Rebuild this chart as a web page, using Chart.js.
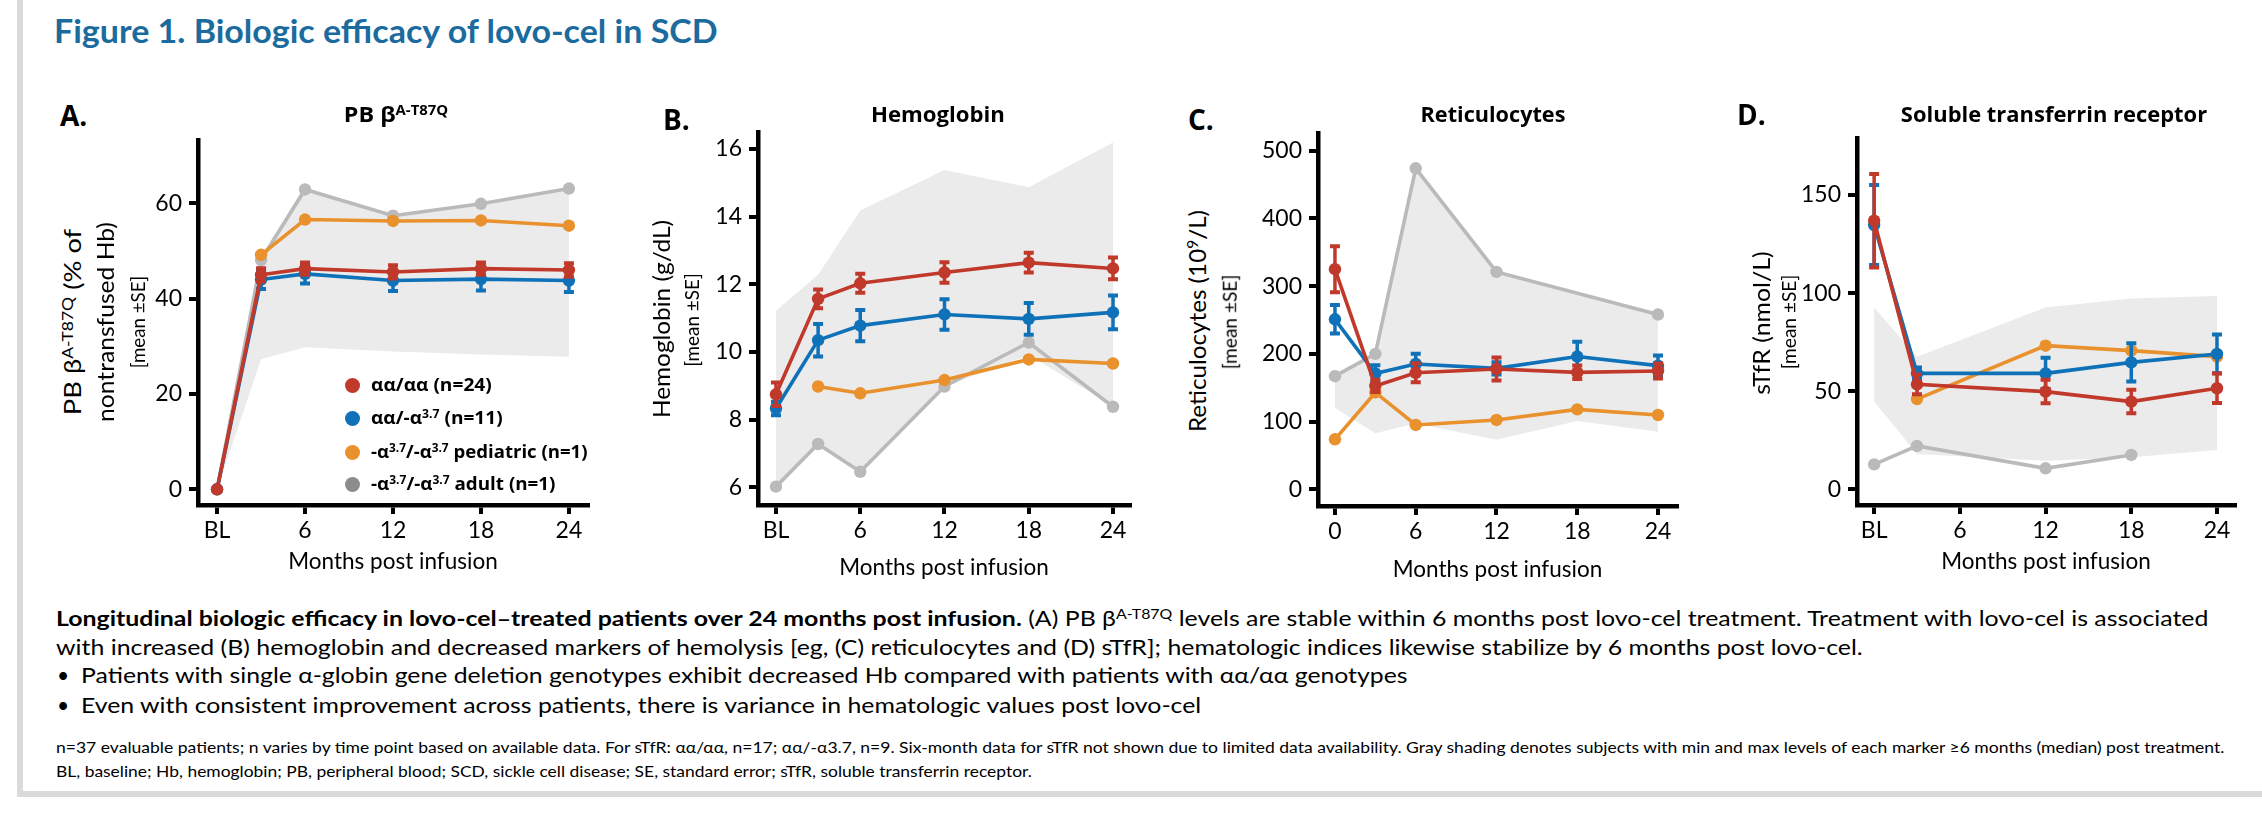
<!DOCTYPE html>
<html><head><meta charset="utf-8">
<script src="https://cdn.jsdelivr.net/npm/chart.js@4.4.1/dist/chart.umd.min.js"></script>
<style>
html,body{margin:0;padding:0;background:#fff;}
#page{position:relative;width:2262px;height:814px;overflow:hidden;background:#fff;font-family:Lato,sans-serif;color:#000;}
.abs{position:absolute;white-space:nowrap;line-height:1;}
canvas{position:absolute;}
.ob{font-family:'Open Sans',sans-serif;font-weight:700;}
.ctr{transform:translateX(-50%);transform-origin:50% 50%;}
.yt{position:absolute;white-space:nowrap;line-height:1;font-family:Lato,sans-serif;transform:translate(-50%,-50%) rotate(-90deg);transform-origin:50% 50%;}
sup{font-size:0.64em;vertical-align:baseline;position:relative;top:-0.5em;}
.dot{position:absolute;width:14px;height:14px;border-radius:50%;}
</style></head>
<body><div id="page">
<div style="position:absolute;left:17px;top:0;width:6px;height:797px;background:#dadada"></div>
<div style="position:absolute;left:17px;top:791px;width:2245px;height:6px;background:#dadada"></div>

<canvas id="cA"></canvas><canvas id="cB"></canvas><canvas id="cC"></canvas><canvas id="cD"></canvas>

<div class="abs" data-w="664" style="left:54px;top:14.5px;font-size:32px;font-weight:700;color:#1b6b9f">Figure 1. Biologic efficacy of lovo-cel in SCD</div>

<div class="abs ob" style="left:60px;top:101px;font-size:28px">A.</div>
<div class="abs ob" style="left:663px;top:105px;font-size:28px">B.</div>
<div class="abs ob" style="left:1188px;top:105px;font-size:28px">C.</div>
<div class="abs ob" style="left:1737px;top:100px;font-size:28px">D.</div>

<div class="abs ob ctr" data-w="104" style="left:396px;top:103px;font-size:21.5px">PB β<sup>A-T87Q</sup></div>
<div class="abs ob ctr" data-w="134" style="left:938px;top:103px;font-size:21.5px">Hemoglobin</div>
<div class="abs ob ctr" data-w="145" style="left:1493px;top:103px;font-size:21.5px">Reticulocytes</div>
<div class="abs ob ctr" data-w="306" style="left:2054px;top:103px;font-size:21.5px">Soluble transferrin receptor</div>

<div class="yt" data-w="187" style="left:71.5px;top:322px;font-size:24px">PB β<sup>A-T87Q</sup> (% of</div>
<div class="yt" data-w="200" style="left:105px;top:322px;font-size:24px">nontransfused Hb)</div>
<div class="yt" data-w="93" style="left:138px;top:322px;font-size:18.5px">[mean ±SE]</div>
<div class="yt" data-w="198" style="left:661px;top:319px;font-size:24px">Hemoglobin (g/dL)</div>
<div class="yt" data-w="94" style="left:692px;top:320px;font-size:18.5px">[mean ±SE]</div>
<div class="yt" data-w="222" style="left:1197px;top:321px;font-size:24px">Reticulocytes (10<sup>9</sup>/L)</div>
<div class="yt" data-w="95" style="left:1230px;top:322px;font-size:18.5px">[mean ±SE]</div>
<div class="yt" data-w="143" style="left:1761px;top:323px;font-size:24px">sTfR (nmol/L)</div>
<div class="yt" data-w="95" style="left:1789px;top:322px;font-size:18.5px">[mean ±SE]</div>

<div id="legend"></div>

<div class="abs" data-w="2152" style="left:56px;top:607px;font-size:21px"><b>Longitudinal biologic efficacy in lovo-cel–treated patients over 24 months post infusion.</b> (A) PB β<sup>A-T87Q</sup> levels are stable within 6 months post lovo-cel treatment. Treatment with lovo-cel is associated</div>
<div class="abs" data-w="1807" style="left:56px;top:636.4px;font-size:21px">with increased (B) hemoglobin and decreased markers of hemolysis [eg, (C) reticulocytes and (D) sTfR]; hematologic indices likewise stabilize by 6 months post lovo-cel.</div>
<div class="abs" style="left:57px;top:664.4px;font-size:21px">•</div>
<div class="abs" data-w="1326" style="left:81px;top:664.4px;font-size:21px">Patients with single α-globin gene deletion genotypes exhibit decreased Hb compared with patients with αα/αα genotypes</div>
<div class="abs" style="left:57px;top:694.1px;font-size:21px">•</div>
<div class="abs" data-w="1120" style="left:81px;top:694.1px;font-size:21px">Even with consistent improvement across patients, there is variance in hematologic values post lovo-cel</div>
<div class="abs" data-w="2168" style="left:56px;top:738.8px;font-size:16px">n=37 evaluable patients; n varies by time point based on available data. For sTfR: αα/αα, n=17; αα/-α3.7, n=9. Six-month data for sTfR not shown due to limited data availability. Gray shading denotes subjects with min and max levels of each marker ≥6 months (median) post treatment.</div>
<div class="abs" data-w="976" style="left:56px;top:762.8px;font-size:16px">BL, baseline; Hb, hemoglobin; PB, peripheral blood; SCD, sickle cell disease; SE, standard error; sTfR, soluble transferrin receptor.</div>
</div>

<script>
// ---------- data ----------
const xTickValues = [0, 6, 12, 18, 24];
const xTickLabelsBL = ['BL', '6', '12', '18', '24'];
const xTickLabelsZero = ['0', '6', '12', '18', '24'];
const monthsAll = [0, 3, 6, 12, 18, 24];
const monthsSTfR = [0, 3, 12, 18, 24];

const legendLabels = ['αα/αα (n=24)', 'αα/-α<sup>3.7</sup> (n=11)', '-α<sup>3.7</sup>/-α<sup>3.7</sup> pediatric (n=1)', '-α<sup>3.7</sup>/-α<sup>3.7</sup> adult (n=1)'];

// A: PB beta A-T87Q (%)
const pbYTicks = [0, 20, 40, 60];
const pbRed = [0, 45.0, 46.3, 45.6, 46.3, 46.0];
const pbRedSE = [0, 1.4, 1.3, 1.4, 1.3, 1.4];
const pbBlue = [0, 44.0, 45.2, 43.8, 44.1, 43.8];
const pbBlueSE = [0, 2.0, 2.0, 2.2, 2.4, 2.4];
const pbOrange = [null, 49.2, 56.6, 56.3, 56.4, 55.3];
const pbGray = [0, 48.1, 62.9, 57.4, 59.9, 63.1];
const pbShadeLo = [0, 27.3, 29.8, 28.9, 28.3, 27.8];
const pbShadeHi = [0, 48.1, 62.9, 57.4, 59.9, 63.1];

// B: Hemoglobin (g/dL)
const hbYTicks = [6, 8, 10, 12, 14, 16];
const hbRed = [8.75, 11.57, 12.03, 12.35, 12.64, 12.47];
const hbRedSE = [0.35, 0.28, 0.28, 0.3, 0.29, 0.32];
const hbBlue = [8.33, 10.35, 10.78, 11.11, 10.98, 11.17];
const hbBlueSE = [0.2, 0.48, 0.46, 0.45, 0.47, 0.5];
const hbOrange = [null, 8.98, 8.78, 9.17, 9.78, 9.66];
const hbGray = [6.02, 7.28, 6.46, 8.98, 10.28, 8.38];
const hbShadeLo = [6.05, 7.28, 6.46, 8.98, 9.9, 8.4];
const hbShadeHi = [11.22, 12.28, 14.18, 15.38, 14.87, 16.19];

// C: Reticulocytes (10^9/L)
const retYTicks = [0, 100, 200, 300, 400, 500];
const retRed = [325, 152.6, 172, 177.7, 172.7, 174.7];
const retRedSE = [34, 9, 14, 17, 10, 11];
const retBlue = [251, 171, 185, 178.6, 196, 182.6];
const retBlueSE = [21, 12, 15, 9, 22, 15];
const retOrange = [73.8, 143, 95, 102.4, 118, 109.7];
const retGray = [167, 200, 474, 321, null, 258];
const retShadeLo = [120, 82.7, 97, 73, 101, 85];
const retShadeHi = [167, 200, 474, 321, 289.5, 258];

// D: sTfR (nmol/L)
const stYTicks = [0, 50, 100, 150];
const stRed = [136.9, 53.5, 49.8, 44.7, 51.5];
const stRedSE = [23.8, 5, 6, 6, 7.5];
const stBlue = [134.7, 59.1, 59.1, 64.7, 69.0];
const stBlueSE = [20.4, 3, 8, 9.8, 9.9];
const stOrange = [null, 46.0, 73.2, 70.7, 67.6];
const stGray = [12.7, 22.1, 10.7, 17.5, null];
const stShadeLo = [44.7, 18, 14.6, 16.3, 20];
const stShadeHi = [92.6, 67.6, 92.7, 97.3, 98.5];

// ---------- styles ----------
const COL = {red: '#c0392b', blue: '#0f71b8', orange: '#e8912d', gray: '#bababa', shade: '#ebebeb', legendGray: '#8c8c8c'};

const errorBarPlugin = {
  id: 'errorBars',
  beforeDatasetDraw(chart, args) {
    const ds = chart.data.datasets[args.index];
    if (!ds.errors) return;
    const ctx = chart.ctx, x = chart.scales.x, y = chart.scales.y;
    ctx.save();
    ctx.strokeStyle = ds.borderColor;
    ctx.lineCap = 'butt';
    ds.data.forEach((p, i) => {
      const e = ds.errors[i];
      if (!e || p.y == null) return;
      const px = x.getPixelForValue(p.x);
      const pt = y.getPixelForValue(p.y + e);
      const pb = y.getPixelForValue(p.y - e);
      ctx.lineWidth = 3.5;
      ctx.beginPath(); ctx.moveTo(px, pt); ctx.lineTo(px, pb); ctx.stroke();
      ctx.lineWidth = 4;
      ctx.beginPath();
      ctx.moveTo(px - 5, pt); ctx.lineTo(px + 5, pt);
      ctx.moveTo(px - 5, pb); ctx.lineTo(px + 5, pb);
      ctx.stroke();
    });
    ctx.restore();
  }
};

function toXY(xs, ys) { return xs.map((x, i) => ({x: x, y: ys[i]})); }

function lineSet(ys, xs, color, order, se) {
  return {data: toXY(xs, ys), borderColor: color, backgroundColor: color,
    pointBackgroundColor: color, pointBorderColor: color, pointBorderWidth: 0,
    borderWidth: 3.6, pointRadius: 6.2, pointHoverRadius: 6.2, tension: 0, fill: false,
    spanGaps: true, order: order, errors: se, clip: false};
}

function makePanel(id, plot, xs, d, yMin, yMax, yTicks, xMin, xMax, xLabels, titlePadBottom) {
  const yW = 100, padTop = 30, padRight = 22, xH = 80;
  const left = plot.l - yW, top = plot.t - padTop;
  const width = plot.r + padRight - left, height = plot.b + xH - top;
  const cv = document.getElementById(id);
  cv.width = width; cv.height = height;
  cv.style.left = left + 'px'; cv.style.top = top + 'px';
  cv.style.width = width + 'px'; cv.style.height = height + 'px';
  const datasets = [
    lineSet(d.red, xs, COL.red, 1, d.redSE),
    lineSet(d.blue, xs, COL.blue, 2, d.blueSE),
    lineSet(d.orange, xs, COL.orange, 3, null),
    lineSet(d.gray, xs, COL.gray, 4, null),
    {data: toXY(xs, d.lo), borderColor: 'rgba(0,0,0,0)', borderWidth: 1, pointRadius: 0, fill: false, order: 10, tension: 0},
    {data: toXY(xs, d.hi), borderColor: 'rgba(0,0,0,0)', borderWidth: 1, pointRadius: 0, fill: '-1', backgroundColor: COL.shade, order: 10, tension: 0}
  ];
  const gridOpt = {display: true, drawOnChartArea: false, drawTicks: true, tickLength: 9, tickWidth: 4, tickColor: '#000', color: '#000', lineWidth: 4};
  const borderOpt = {display: true, color: '#000', width: 4.5};
  const tickFont = {family: 'Lato', size: 23};
  return new Chart(cv, {
    type: 'line',
    data: {datasets: datasets},
    options: {
      responsive: false, animation: false, devicePixelRatio: 1, events: [],
      layout: {padding: {top: padTop, right: padRight, left: 0, bottom: 0}},
      plugins: {legend: {display: false}, tooltip: {enabled: false}},
      scales: {
        x: {type: 'linear', min: xMin, max: xMax,
          afterBuildTicks: s => { s.ticks = xTickValues.map(v => ({value: v})); },
          afterFit: s => { s.height = xH; },
          ticks: {callback: v => xLabels[xTickValues.indexOf(v)], color: '#000', font: tickFont, padding: 3, maxRotation: 0, autoSkip: false},
          grid: gridOpt, border: borderOpt,
          title: {display: true, text: 'Months post infusion', color: '#000', font: {family: 'Lato', size: 22.5}, padding: {top: 0, bottom: titlePadBottom}}
        },
        y: {type: 'linear', min: yMin, max: yMax,
          afterBuildTicks: s => { s.ticks = yTicks.map(v => ({value: v})); },
          afterFit: s => { s.width = yW; },
          ticks: {color: '#000', font: tickFont, padding: 7, autoSkip: false},
          grid: gridOpt, border: borderOpt
        }
      }
    },
    plugins: [errorBarPlugin]
  });
}

makePanel('cA', {l: 198, r: 588, t: 140, b: 505}, monthsAll,
  {red: pbRed, redSE: pbRedSE, blue: pbBlue, blueSE: pbBlueSE, orange: pbOrange, gray: pbGray, lo: pbShadeLo, hi: pbShadeHi},
  -3.29, 73.28, pbYTicks, -1.3, 25.3, xTickLabelsBL, 9.8);
makePanel('cB', {l: 758, r: 1130, t: 132, b: 505}, monthsAll,
  {red: hbRed, redSE: hbRedSE, blue: hbBlue, blueSE: hbBlueSE, orange: hbOrange, gray: hbGray, lo: hbShadeLo, hi: hbShadeHi},
  5.477, 16.503, hbYTicks, -1.28, 25.21, xTickLabelsBL, 3.8);
makePanel('cC', {l: 1318, r: 1677, t: 133, b: 506}, monthsAll,
  {red: retRed, redSE: retRedSE, blue: retBlue, blueSE: retBlueSE, orange: retOrange, gray: retGray, lo: retShadeLo, hi: retShadeHi},
  -24.66, 526.1, retYTicks, -1.26, 25.41, xTickLabelsZero, 2.8);
makePanel('cD', {l: 1857, r: 2235, t: 138, b: 505}, monthsSTfR,
  {red: stRed, redSE: stRedSE, blue: stBlue, blueSE: stBlueSE, orange: stOrange, gray: stGray, lo: stShadeLo, hi: stShadeHi},
  -8.0, 179.05, stYTicks, -1.2, 25.26, xTickLabelsBL, 9.8);

// ---------- legend (panel A) ----------
const legendColors = [COL.red, COL.blue, COL.orange, COL.legendGray];
const legendY = [385, 418, 452, 484];
const legendW = [121, 132, 217, 185];
const lg = document.getElementById('legend');
legendLabels.forEach((t, i) => {
  const dot = document.createElement('div');
  dot.className = 'dot';
  dot.style.left = (352 - 7.5) + 'px'; dot.style.top = (legendY[i] - 7.5) + 'px';
  dot.style.width = '15px'; dot.style.height = '15px';
  dot.style.background = legendColors[i];
  lg.appendChild(dot);
  const lab = document.createElement('div');
  lab.className = 'abs ob';
  lab.style.left = '371px'; lab.style.top = (legendY[i] - 10) + 'px'; lab.style.fontSize = '18.5px';
  lab.style.transformOrigin = '0 50%';
  lab.dataset.w = legendW[i];
  lab.innerHTML = t;
  document.getElementById('page').appendChild(lab);
});

// ---------- fit text widths ----------
function fitAll() {
  document.querySelectorAll('[data-w]').forEach(el => {
    const w = el.offsetWidth;
    if (!w) return;
    const k = (+el.dataset.w) / w;
    if (el.classList.contains('yt')) {
      el.style.transform = 'translate(-50%,-50%) rotate(-90deg) scaleX(' + k + ')';
    } else if (el.classList.contains('ctr')) {
      el.style.transform = 'translateX(-50%) scaleX(' + k + ')';
    } else {
      if (!el.style.transformOrigin) el.style.transformOrigin = '0 0';
      el.style.transform = 'scaleX(' + k + ')';
    }
  });
}
fitAll();
if (document.fonts && document.fonts.ready) document.fonts.ready.then(fitAll);
</script>
</body></html>
